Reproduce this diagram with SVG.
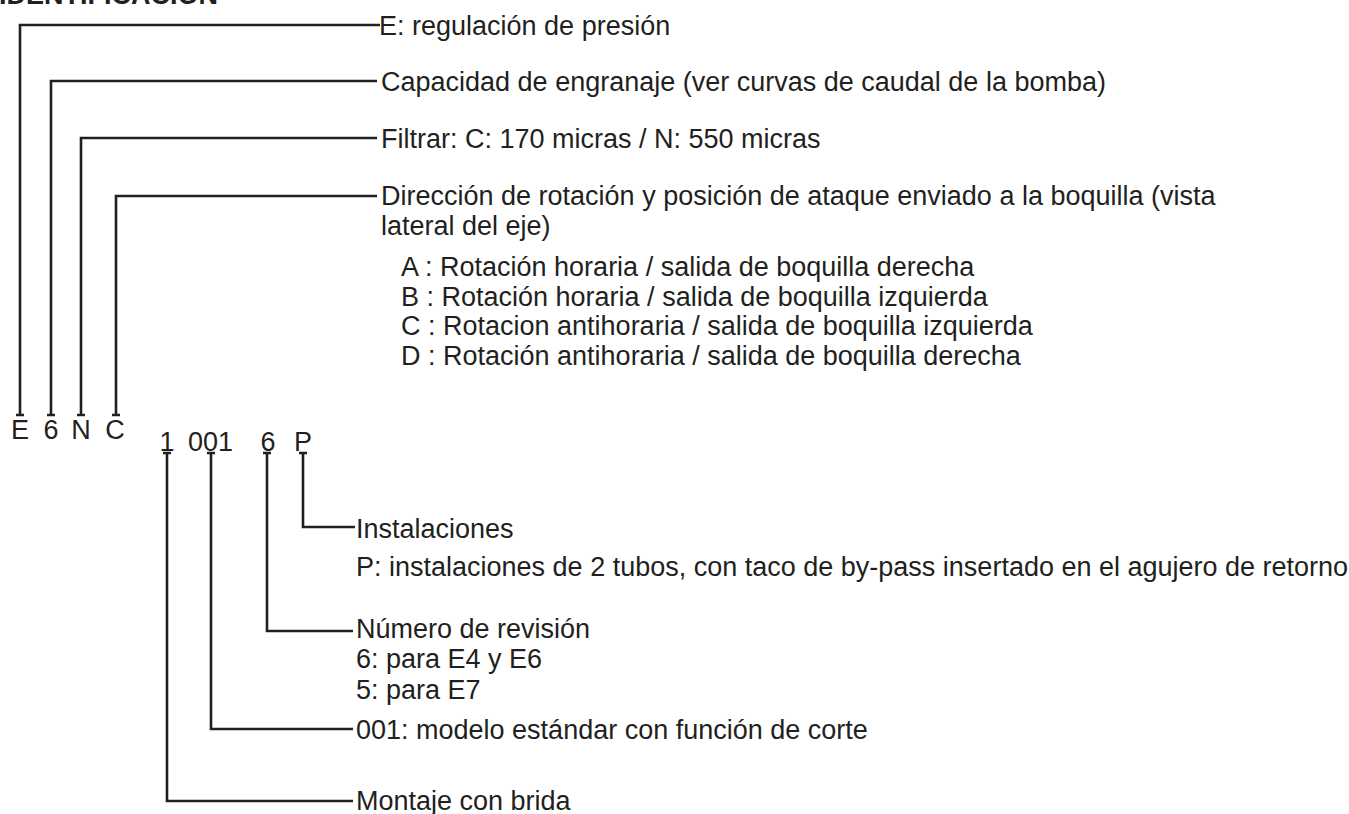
<svg xmlns="http://www.w3.org/2000/svg" width="1349" height="814" viewBox="0 0 1349 814">
<style>
text{font-family:"Liberation Sans",Arial,Helvetica,sans-serif;font-size:27px;fill:#231f20}
.title{font-weight:bold}
.code{text-anchor:middle}
.conn{fill:none;stroke:#231f20;stroke-width:2.6;stroke-linejoin:miter;stroke-linecap:butt}
.tick{fill:none;stroke:#231f20;stroke-width:2.6}
</style>
<rect width="1349" height="814" fill="#ffffff"/>
<g id="title"><text class="title" x="-1" y="4">IDENTIFICACIÓN</text></g>

<g id="connectors">
  <path class="conn" d="M20,415 V25 H380"/>
  <path class="conn" d="M51,415 V81 H377"/>
  <path class="conn" d="M81,415 V138 H377"/>
  <path class="conn" d="M116,415 V196 H377"/>
  <path class="conn" d="M303,453 V527 H355"/>
  <path class="conn" d="M267,453 V631 H353"/>
  <path class="conn" d="M211,453 V729 H353"/>
  <path class="conn" d="M167,453 V801 H353"/>
  <path class="tick" d="M16,415 H24 M47,415 H55 M77,415 H85 M112,415 H120"/>
  <path class="tick" d="M163,453 H171 M207,453 H215 M263,453 H271 M299,453 H307"/>
</g>

<g id="code-top">
  <text class="code" x="20" y="439">E</text>
  <text class="code" x="51" y="439">6</text>
  <text class="code" x="81" y="439">N</text>
  <text class="code" x="115" y="439">C</text>
</g>
<g id="code-bottom">
  <text class="code" x="167" y="451">1</text>
  <text class="code" x="210.5" y="451">001</text>
  <text class="code" x="268" y="451">6</text>
  <text class="code" x="303" y="451">P</text>
</g>

<g id="label-regulacion"><text x="379" y="35">E: regulación de presión</text></g>
<g id="label-capacidad"><text x="381" y="91">Capacidad de engranaje (ver curvas de caudal de la bomba)</text></g>
<g id="label-filtrar"><text x="381" y="148">Filtrar: C: 170 micras / N: 550 micras</text></g>
<g id="label-direccion">
  <text x="381" y="205">Dirección de rotación y posición de ataque enviado a la boquilla (vista</text>
  <text x="381" y="235">lateral del eje)</text>
  <text x="401" y="276">A : Rotación horaria / salida de boquilla derecha</text>
  <text x="401" y="306">B : Rotación horaria / salida de boquilla izquierda</text>
  <text x="401" y="335">C : Rotacion antihoraria / salida de boquilla izquierda</text>
  <text x="401" y="365">D : Rotación antihoraria / salida de boquilla derecha</text>
</g>
<g id="label-instalaciones">
  <text x="356" y="538">Instalaciones</text>
  <text x="356" y="576">P: instalaciones de 2 tubos, con taco de by-pass insertado en el agujero de retorno</text>
</g>
<g id="label-revision">
  <text x="356" y="638">Número de revisión</text>
  <text x="356" y="668">6: para E4 y E6</text>
  <text x="356" y="699">5: para E7</text>
</g>
<g id="label-modelo"><text x="356" y="739">001: modelo estándar con función de corte</text></g>
<g id="label-montaje"><text x="356" y="810">Montaje con brida</text></g>
</svg>
